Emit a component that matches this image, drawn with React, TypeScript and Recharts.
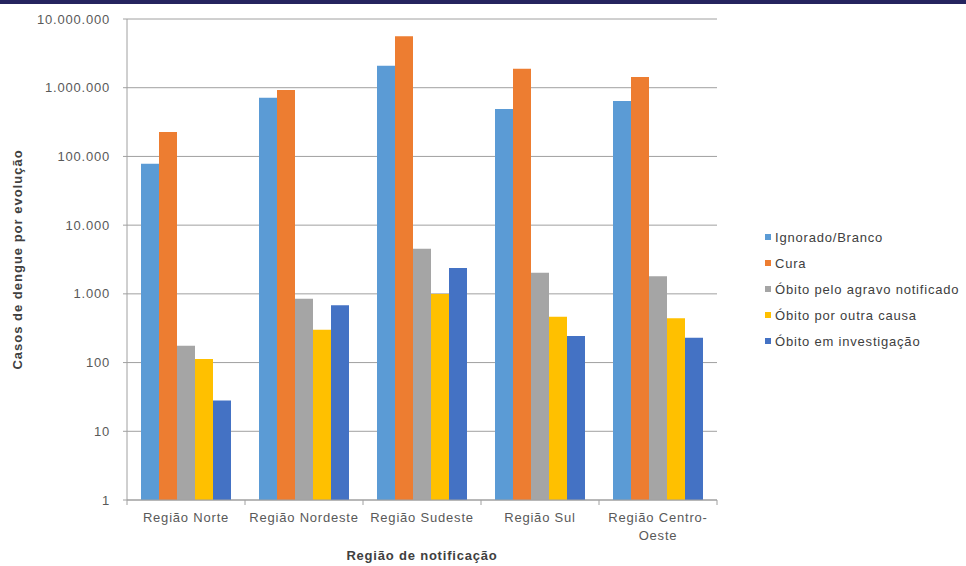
import { BarChart, Bar, XAxis, YAxis, CartesianGrid, Legend } from 'recharts';

const regions = ['Região Norte', 'Região Nordeste', 'Região Sudeste', 'Região Sul', 'Região Centro-Oeste'];

const ignoradoBranco = [78000, 716000, 2094000, 491000, 641000];
const cura = [227000, 927000, 5600000, 1893000, 1433000];
const obitoAgravo = [176, 851, 4545, 2033, 1802];
const obitoOutraCausa = [113, 301, 996, 466, 441];
const obitoInvestigacao = [28, 681, 2379, 244, 230];

const yTicks = [1, 10, 100, 1000, 10000, 100000, 1000000, 10000000];

const series = [
  { key: 'ignorado', name: 'Ignorado/Branco', color: '#5B9BD5', values: ignoradoBranco },
  { key: 'cura', name: 'Cura', color: '#ED7D31', values: cura },
  { key: 'agravo', name: 'Óbito pelo agravo notificado', color: '#A5A5A5', values: obitoAgravo },
  { key: 'outra', name: 'Óbito por outra causa', color: '#FFC000', values: obitoOutraCausa },
  { key: 'investigacao', name: 'Óbito em investigação', color: '#4472C4', values: obitoInvestigacao },
];

const data = regions.map((region, i) => {
  const row: Record<string, string | number> = { region };
  series.forEach((s) => {
    row[s.key] = s.values[i];
  });
  return row;
});

const FONT = '"Liberation Sans", Arial, sans-serif';
const TEXT = '#595959';
const LINE = '#a0a0a0';
const SPACING = 0.8;

// pt-BR thousands separator
const formatThousands = (v: number) => String(v).replace(/\B(?=(\d{3})+(?!\d))/g, '.');

const RegionTick = (props: any) => {
  const { x, y, payload, index, width, visibleTicksCount } = props;
  const band = width / visibleTicksCount;
  const axisY = y - 5;
  const label: string = payload.value;
  // long labels break after the hyphen
  const lines = label.length > 16 ? label.split(/(?<=-)/) : [label];
  return (
    <g>
      <line x1={x - band / 2} x2={x - band / 2} y1={axisY} y2={axisY + 5} stroke={LINE} />
      {index === visibleTicksCount - 1 && (
        <line x1={x + band / 2} x2={x + band / 2} y1={axisY} y2={axisY + 5} stroke={LINE} />
      )}
      <text
        x={x}
        y={y + 17}
        textAnchor="middle"
        fontSize={13}
        letterSpacing={SPACING}
        fill={TEXT}
        fontFamily={FONT}
      >
        {lines.map((line, i) => (
          <tspan key={i} x={x} dy={i === 0 ? 0 : 18}>
            {line}
          </tspan>
        ))}
      </text>
    </g>
  );
};

const LegendList = () => (
  <div style={{ fontFamily: FONT, fontSize: 13, letterSpacing: SPACING, color: '#404040' }}>
    {series.map((s) => (
      <div key={s.key} style={{ display: 'flex', alignItems: 'center', height: 26 }}>
        <span style={{ width: 6, height: 6, background: s.color, marginRight: 4, display: 'inline-block' }} />
        <span>{s.name}</span>
      </div>
    ))}
  </div>
);

export default function App() {
  return (
    <div
      style={{
        position: 'absolute',
        left: 0,
        top: 0,
        width: 966,
        height: 566,
        background: '#ffffff',
        overflow: 'hidden',
      }}
    >
      <div style={{ position: 'absolute', left: 0, top: 0, width: 966, height: 4, background: '#25245f' }} />
      <BarChart
        width={966}
        height={566}
        data={data}
        margin={{ top: 19, right: 249, bottom: 0, left: 0 }}
        barCategoryGap={14}
        barGap={0}
      >
        <CartesianGrid vertical={false} stroke={LINE} />
        <XAxis
          dataKey="region"
          height={66}
          stroke={LINE}
          tickLine={false}
          tickSize={5}
          tickMargin={0}
          interval={0}
          tick={<RegionTick />}
          label={({ viewBox }: any) => (
            <text
              x={viewBox.x + viewBox.width / 2}
              y={viewBox.y + 60}
              textAnchor="middle"
              fontSize={13}
              letterSpacing={SPACING}
              fontWeight="bold"
              fill="#404040"
              fontFamily={FONT}
            >
              Região de notificação
            </text>
          )}
        />
        <YAxis
          width={127}
          scale="log"
          domain={[1, 10000000]}
          ticks={yTicks}
          allowDataOverflow
          stroke={LINE}
          tickSize={4}
          tickMargin={13}
          tickFormatter={formatThousands}
          tick={{ fontSize: 13, fill: TEXT, fontFamily: FONT, letterSpacing: SPACING }}
          label={({ viewBox }: any) => {
            const cx = viewBox.x + 22;
            const cy = viewBox.y + viewBox.height / 2;
            return (
              <text
                x={cx}
                y={cy}
                transform={`rotate(-90, ${cx}, ${cy})`}
                textAnchor="middle"
                fontSize={13}
                letterSpacing={1}
                fontWeight="bold"
                fill="#404040"
                fontFamily={FONT}
              >
                Casos de dengue por evolução
              </text>
            );
          }}
        />
        <Legend
          layout="vertical"
          align="center"
          verticalAlign="middle"
          content={<LegendList />}
          wrapperStyle={{ position: 'absolute', left: 765, top: 224, width: 201 }}
        />
        {series.map((s) => (
          <Bar key={s.key} dataKey={s.key} name={s.name} fill={s.color} isAnimationActive={false} />
        ))}
      </BarChart>
    </div>
  );
}
